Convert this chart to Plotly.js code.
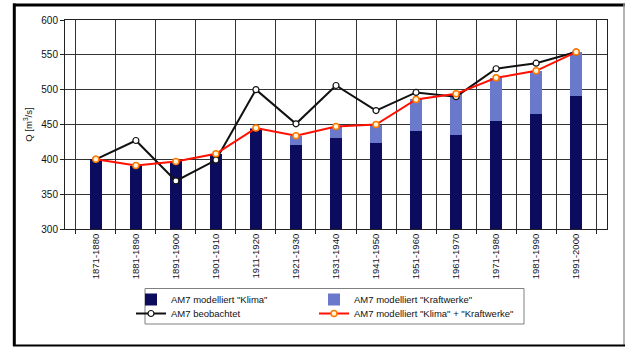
<!DOCTYPE html>
<html>
<head>
<meta charset="utf-8">
<script src="https://cdn.plot.ly/plotly-3.0.1.min.js"></script>
<style>
  html, body { margin: 0; padding: 0; background: #fff; }
  #chart { width: 626px; height: 347px; }
</style>
</head>
<body>
<div id="chart"></div>
<script>
// Decades of the AM7 series
const periods = ['1871-1880', '1881-1890', '1891-1900', '1901-1910', '1911-1920', '1921-1930',
  '1931-1940', '1941-1950', '1951-1960', '1961-1970', '1971-1980', '1981-1990', '1991-2000'];

// Modelled share from climate (dark bars), m³/s
const klima = [400, 391, 397, 408, 444, 421, 430, 423, 441, 435, 455, 465, 491];
// Additional modelled share from power plants (light bars), m³/s
const kraftwerke = [0, 0, 0, 0, 1, 13, 17, 27, 45, 59, 62, 62, 63];
// Modelled climate + power plants (red line), m³/s
const modelliertGesamt = [400, 391, 397, 408, 445, 434, 447, 450, 486, 494, 517, 527, 554];
// Observed values (black line), m³/s
const beobachtet = [400, 427, 369, 399, 500, 451, 506, 470, 496, 490, 530, 538, 554];

const FONT = '"Liberation Sans", Arial, sans-serif';

const traces = [
  {
    type: 'bar', x: periods, y: klima, name: 'AM7 modelliert "Klima"',
    marker: { color: '#0c0c5e', line: { width: 0 } }, legend: 'legend', legendwidth: 138
  },
  {
    type: 'bar', x: periods, y: kraftwerke, name: 'AM7 modelliert "Kraftwerke"',
    marker: { color: '#6b79cc', line: { width: 0 } }, legend: 'legend', legendwidth: 160
  },
  {
    type: 'scatter', mode: 'lines+markers', x: periods, y: beobachtet, name: 'AM7 beobachtet',
    line: { color: '#111111', width: 2 },
    marker: { symbol: 'circle', size: 6, color: '#ffffff', line: { color: '#111111', width: 1.2 } },
    legend: 'legend2', legendwidth: 138
  },
  {
    type: 'scatter', mode: 'lines+markers', x: periods, y: modelliertGesamt,
    name: 'AM7 modelliert "Klima" + "Kraftwerke"',
    line: { color: '#ff1000', width: 2 },
    marker: { symbol: 'circle', size: 6, color: '#fff6dc', line: { color: '#ff7a00', width: 1.5 } },
    legend: 'legend2', legendwidth: 175
  }
];

// Pixel helpers for paper-referenced decoration (plot area 65..607 x 20..229)
const L = 65, R = 607, T = 20, B = 229;
const px = v => (v - L) / (R - L);
const py = v => (B - v) / (B - T);

const legendCommon = {
  orientation: 'h', xanchor: 'left', yanchor: 'top',
  bgcolor: 'rgba(0,0,0,0)', borderwidth: 0,
  entrywidthmode: 'pixels',
  font: { family: FONT, size: 9.5, color: '#111' },
  traceorder: 'normal'
};

const layout = {
  width: 626, height: 347,
  margin: { l: L, r: 626 - R, t: T, b: 347 - B },
  paper_bgcolor: '#ffffff', plot_bgcolor: '#ffffff',
  font: { family: FONT, size: 9.5, color: '#111' },
  barmode: 'stack', bargap: 0.7,
  showlegend: true,
  legend: Object.assign({ x: px(131), y: py(285) }, legendCommon),
  legend2: Object.assign({ x: px(131), y: py(299) }, legendCommon),
  xaxis: {
    type: 'category', tickson: 'boundaries',
    showgrid: true, gridcolor: '#333333', gridwidth: 1,
    showline: true, linecolor: '#222', linewidth: 1, mirror: true,
    ticks: 'outside', ticklen: 4, tickcolor: '#222',
    tickangle: -90, tickfont: { family: FONT, size: 9.5, color: '#111' },
    fixedrange: true
  },
  yaxis: {
    range: [300, 600], dtick: 50, tick0: 300,
    showgrid: true, gridcolor: '#333333', gridwidth: 1,
    showline: true, linecolor: '#222', linewidth: 1, mirror: true,
    ticks: 'outside', ticklen: 4, tickcolor: '#222',
    tickfont: { family: FONT, size: 10, color: '#111' },
    title: { text: 'Q [m<sup>3</sup>/s]', font: { family: FONT, size: 9.5, color: '#111' }, standoff: 6 },
    zeroline: false, fixedrange: true
  },
  shapes: [
    // legend frame
    { type: 'rect', xref: 'paper', yref: 'paper', x0: px(145), x1: px(524), y0: py(324), y1: py(288.5),
      line: { color: '#808080', width: 1 }, fillcolor: 'rgba(0,0,0,0)' },
    // outer frame
    { type: 'line', xref: 'paper', yref: 'paper', x0: px(14.3), x1: px(14.3), y0: py(3.5), y1: py(346),
      line: { color: '#000', width: 3 } },
    { type: 'line', xref: 'paper', yref: 'paper', x0: px(13), x1: px(625), y0: py(5), y1: py(5),
      line: { color: '#000', width: 3 } },
    { type: 'line', xref: 'paper', yref: 'paper', x0: px(624), x1: px(624), y0: py(4), y1: py(346),
      line: { color: '#9a9a9a', width: 1.5 } },
    { type: 'line', xref: 'paper', yref: 'paper', x0: px(13), x1: px(625), y0: py(345.5), y1: py(345.5),
      line: { color: '#000', width: 2 } }
  ]
};

Plotly.newPlot('chart', traces, layout, { staticPlot: true, displayModeBar: false });
</script>
</body>
</html>
